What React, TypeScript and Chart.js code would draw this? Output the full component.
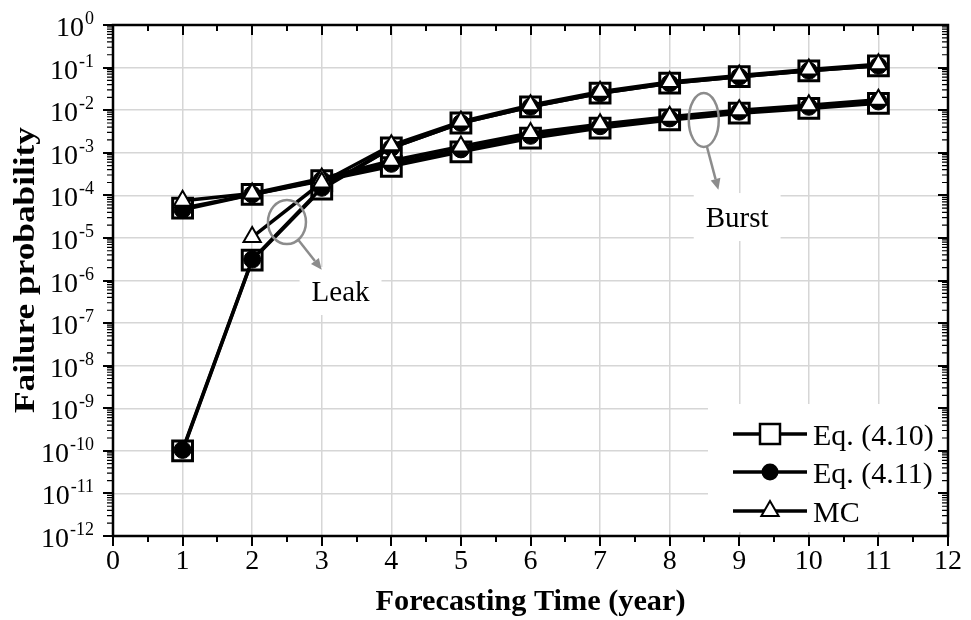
import React, { useEffect, useRef } from 'react';
import { Chart, registerables } from 'chart.js';

Chart.register(...registerables);

// ---------- data ----------
const years = [1, 2, 3, 4, 5, 6, 7, 8, 9, 10, 11];
const leakEq410 = [1e-10, 3e-6, 1.4e-4, 1.3e-3, 5e-3, 1.2e-2, 2.5e-2, 4.3e-2, 6.1e-2, 8.4e-2, 0.11];
const leakEq411 = [1.05e-10, 3.1e-6, 1.5e-4, 1.3e-3, 5e-3, 1.2e-2, 2.5e-2, 4.3e-2, 6.1e-2, 8.4e-2, 0.11];
const leakMC = [null, 1.05e-5, 2e-4, 1.5e-3, 5.4e-3, 1.3e-2, 2.7e-2, 4.6e-2, 6.5e-2, 9e-2, 0.12];
const burstEq410 = [5e-5, 1.05e-4, 2.2e-4, 4.8e-4, 1.05e-3, 2.2e-3, 3.8e-3, 5.9e-3, 8.5e-3, 1.1e-2, 1.45e-2];
const burstEq411 = [4.6e-5, 1.05e-4, 2.3e-4, 5.5e-4, 1.2e-3, 2.5e-3, 4.2e-3, 6.4e-3, 9.2e-3, 1.2e-2, 1.6e-2];
const burstMC = [7.5e-5, 1.1e-4, 2.5e-4, 6.5e-4, 1.4e-3, 2.9e-3, 4.7e-3, 7e-3, 1e-2, 1.3e-2, 1.75e-2];
const seriesNames = ['Eq. (4.10)', 'Eq. (4.11)', 'MC'];
const xTickValues = [0, 1, 2, 3, 4, 5, 6, 7, 8, 9, 10, 11, 12];
const yExponents = [0, -1, -2, -3, -4, -5, -6, -7, -8, -9, -10, -11, -12];
const annotationLabels = ['Leak', 'Burst'];
const xTitle = 'Forecasting Time (year)';
const yTitle = 'Failure probability';

const FONT = '"Liberation Serif", "Times New Roman", serif';
const GRAY = '#8c8c8c';

const toPoints = (arr: (number | null)[]) => years.map((x, i) => ({ x, y: arr[i] }));

const styleSquare = {
  pointStyle: 'rect', pointRadius: 14, pointBackgroundColor: '#ffffff', pointBorderColor: '#000000',
  pointBorderWidth: 3, borderColor: '#000000', borderWidth: 3.5, order: 3,
};
const styleCircle = {
  pointStyle: 'circle', pointRadius: 8.5, pointBackgroundColor: '#000000', pointBorderColor: '#000000',
  pointBorderWidth: 1, borderColor: '#000000', borderWidth: 3.5, order: 2,
};
const styleTriangle = {
  pointStyle: 'triangle', pointRadius: 10, pointBackgroundColor: '#ffffff', pointBorderColor: '#000000',
  pointBorderWidth: 2, borderColor: '#000000', borderWidth: 3.5, order: 1,
};

function drawArrow(ctx: CanvasRenderingContext2D, x1: number, y1: number, x2: number, y2: number) {
  const ang = Math.atan2(y2 - y1, x2 - x1);
  const hl = 11, hw = 5;
  const bx = x2 - Math.cos(ang) * hl, by = y2 - Math.sin(ang) * hl;
  ctx.beginPath();
  ctx.moveTo(x1, y1);
  ctx.lineTo(bx, by);
  ctx.stroke();
  ctx.beginPath();
  ctx.moveTo(x2, y2);
  ctx.lineTo(bx + Math.sin(ang) * hw, by - Math.cos(ang) * hw);
  ctx.lineTo(bx - Math.sin(ang) * hw, by + Math.cos(ang) * hw);
  ctx.closePath();
  ctx.fill();
}

function stretchedText(ctx: CanvasRenderingContext2D, text: string, x: number, y: number, targetW: number, rot: number) {
  ctx.save();
  ctx.translate(x, y);
  ctx.rotate(rot);
  const w = ctx.measureText(text).width;
  ctx.scale(targetW / w, 1);
  ctx.textAlign = 'center';
  ctx.textBaseline = 'alphabetic';
  ctx.fillText(text, 0, 0);
  ctx.restore();
}

const decorPlugin = {
  id: 'decor',
  afterDatasetsDraw(chart: any) {
    const { ctx, chartArea: a, scales } = chart;
    const xs = scales.x, ys = scales.y;
    ctx.save();

    // ---- annotations ----
    const notes = [
      { text: annotationLabels[0], tx: 3.27, ty: 3.3e-7, ex: 2.5, ey: 2.36e-5, rx: 19, ry: 22, ax: 3.0, ay: 1.8e-6 },
      { text: annotationLabels[1], tx: 8.97, ty: 1.8e-5, ex: 8.49, ey: 5.9e-3, rx: 15, ry: 27, ax: 8.7, ay: 1.35e-4 },
    ];
    ctx.font = `29px ${FONT}`;
    for (const n of notes) {
      const cx = xs.getPixelForValue(n.tx);
      const by = ys.getPixelForValue(n.ty);
      const w = ctx.measureText(n.text).width;
      ctx.fillStyle = '#ffffff';
      ctx.fillRect(cx - w / 2 - 12, by - 34, w + 24, 48);
      ctx.fillStyle = '#000000';
      ctx.textAlign = 'center';
      ctx.textBaseline = 'alphabetic';
      ctx.fillText(n.text, cx, by);
      const ex = xs.getPixelForValue(n.ex), ey = ys.getPixelForValue(n.ey);
      ctx.strokeStyle = GRAY;
      ctx.fillStyle = GRAY;
      ctx.lineWidth = 2.5;
      ctx.beginPath();
      ctx.ellipse(ex, ey, n.rx, n.ry, 0, 0, Math.PI * 2);
      ctx.stroke();
      const axp = xs.getPixelForValue(n.ax), ayp = ys.getPixelForValue(n.ay);
      const ang = Math.atan2(ayp - ey, axp - ex);
      const sx = ex + n.rx * Math.cos(ang), sy = ey + n.ry * Math.sin(ang);
      drawArrow(ctx, sx, sy, axp, ayp);
    }

    // ---- legend ----
    const lx0 = a.right - 235, ly0 = a.bottom - 132;
    ctx.fillStyle = '#ffffff';
    ctx.fillRect(lx0 - 5, ly0, 235, 128);
    const rowsY = [ly0 + 30, ly0 + 68, ly0 + 107];
    const mx = lx0 + 57;
    seriesNames.forEach((name, i) => {
      const y = rowsY[i];
      ctx.strokeStyle = '#000';
      ctx.lineWidth = 3.5;
      ctx.beginPath();
      ctx.moveTo(lx0 + 20, y);
      ctx.lineTo(lx0 + 94, y);
      ctx.stroke();
      if (i === 0) {
        ctx.fillStyle = '#fff';
        ctx.fillRect(mx - 10, y - 10, 20, 20);
        ctx.lineWidth = 2.5;
        ctx.strokeRect(mx - 10, y - 10, 20, 20);
      } else if (i === 1) {
        ctx.fillStyle = '#000';
        ctx.beginPath();
        ctx.arc(mx, y, 8.5, 0, Math.PI * 2);
        ctx.fill();
      } else {
        const r = 10;
        ctx.fillStyle = '#fff';
        ctx.lineWidth = 2;
        ctx.beginPath();
        ctx.moveTo(mx, y - r);
        ctx.lineTo(mx + r * 0.866, y + r / 2);
        ctx.lineTo(mx - r * 0.866, y + r / 2);
        ctx.closePath();
        ctx.fill();
        ctx.stroke();
      }
      ctx.fillStyle = '#000';
      ctx.font = `30px ${FONT}`;
      ctx.textAlign = 'left';
      ctx.textBaseline = 'alphabetic';
      ctx.fillText(name, lx0 + 100, y + 11);
    });

    // ---- frame ----
    ctx.strokeStyle = '#000';
    ctx.lineWidth = 2.5;
    ctx.strokeRect(a.left, a.top, a.right - a.left, a.bottom - a.top);

    // ---- x ticks (bottom outward, top inward) ----
    ctx.lineWidth = 2;
    for (let v = xTickValues[0]; v <= xTickValues[xTickValues.length - 1]; v += 0.5) {
      const px = Math.round(xs.getPixelForValue(v));
      const len = Number.isInteger(v) ? 10 : 6;
      ctx.beginPath();
      ctx.moveTo(px, a.bottom);
      ctx.lineTo(px, a.bottom + len);
      ctx.moveTo(px, a.top);
      ctx.lineTo(px, a.top + len);
      ctx.stroke();
    }

    // ---- y ticks (left outward, right inward) ----
    for (const e of yExponents) {
      const base = Math.pow(10, e);
      ctx.lineWidth = 2;
      const py = Math.round(ys.getPixelForValue(base));
      ctx.beginPath();
      ctx.moveTo(a.left - 10, py);
      ctx.lineTo(a.left, py);
      ctx.moveTo(a.right - 10, py);
      ctx.lineTo(a.right, py);
      ctx.stroke();
      if (e < 0) {
        ctx.lineWidth = 1.2;
        for (let m = 2; m <= 9; m++) {
          const q = ys.getPixelForValue(m * base);
          ctx.beginPath();
          ctx.moveTo(a.left - 6, q);
          ctx.lineTo(a.left, q);
          ctx.moveTo(a.right - 6, q);
          ctx.lineTo(a.right, q);
          ctx.stroke();
        }
      }
    }

    // ---- y labels 10^n ----
    ctx.fillStyle = '#000';
    ctx.textAlign = 'right';
    ctx.textBaseline = 'alphabetic';
    const rightX = a.left - 19;
    for (const e of yExponents) {
      const py = ys.getPixelForValue(Math.pow(10, e));
      const exp = String(e);
      ctx.font = `18px ${FONT}`;
      const ew = ctx.measureText(exp).width;
      ctx.fillText(exp, rightX, py - 1);
      ctx.font = `28px ${FONT}`;
      ctx.fillText('10', rightX - ew - 1, py + 11);
    }

    // ---- axis titles ----
    ctx.font = `bold 30px ${FONT}`;
    stretchedText(ctx, xTitle, (a.left + a.right) / 2, 610, 310, 0);
    stretchedText(ctx, yTitle, 34, 270, 286, -Math.PI / 2);

    ctx.restore();
  },
};

export default function App() {
  const ref = useRef<HTMLCanvasElement | null>(null);

  useEffect(() => {
    if (!ref.current) return;
    const chart = new Chart(ref.current, {
      type: 'line',
      data: {
        datasets: [
          { label: seriesNames[0], data: toPoints(leakEq410), ...styleSquare },
          { label: seriesNames[1], data: toPoints(leakEq411), ...styleCircle },
          { label: seriesNames[2], data: toPoints(leakMC), ...styleTriangle },
          { label: seriesNames[0], data: toPoints(burstEq410), ...styleSquare },
          { label: seriesNames[1], data: toPoints(burstEq411), ...styleCircle },
          { label: seriesNames[2], data: toPoints(burstMC), ...styleTriangle },
        ] as any,
      },
      options: {
        animation: false,
        responsive: true,
        maintainAspectRatio: false,
        layout: { padding: { top: 25, right: 18, left: 0, bottom: 0 } },
        plugins: { legend: { display: false }, tooltip: { enabled: false } },
        elements: { line: { tension: 0 } },
        scales: {
          x: {
            type: 'linear',
            min: xTickValues[0],
            max: xTickValues[xTickValues.length - 1],
            afterBuildTicks: (scale: any) => {
              scale.ticks = xTickValues.map((v) => ({ value: v }));
            },
            afterFit: (scale: any) => {
              scale.height = 84;
            },
            grid: { color: '#d6d6d6', lineWidth: 1.5, drawTicks: false },
            border: { display: false },
            ticks: {
              autoSkip: false,
              maxRotation: 0,
              padding: 9,
              color: '#000',
              font: { family: FONT, size: 28 },
            },
            title: { display: false },
          },
          y: {
            type: 'logarithmic',
            min: Math.pow(10, yExponents[yExponents.length - 1]),
            max: Math.pow(10, yExponents[0]),
            afterBuildTicks: (scale: any) => {
              scale.ticks = yExponents.map((e) => ({ value: Math.pow(10, e) }));
            },
            afterFit: (scale: any) => {
              scale.width = 113;
            },
            grid: { color: '#d6d6d6', lineWidth: 1.5, drawTicks: false },
            border: { display: false },
            ticks: { display: false },
            title: { display: false },
          },
        },
      } as any,
      plugins: [decorPlugin],
    });
    return () => chart.destroy();
  }, []);

  return (
    <div style={{ position: 'fixed', left: 0, top: 0, width: 971, height: 620, background: '#fff' }}>
      <canvas ref={ref} />
    </div>
  );
}
